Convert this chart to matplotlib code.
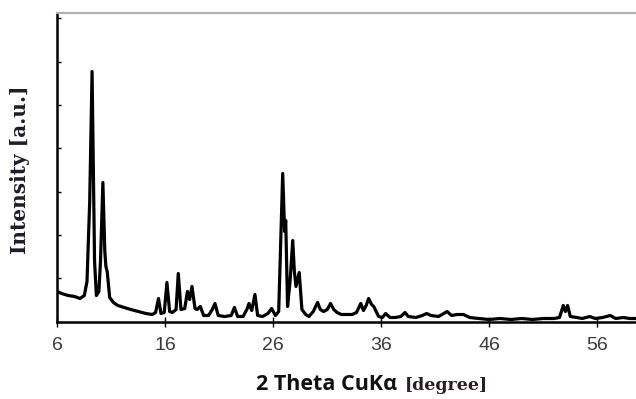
import numpy as np
import matplotlib.pyplot as plt

# XRD pattern (2-theta in degrees, intensity in arbitrary units)
two_theta = [
    6.0, 6.4, 7.0, 7.6, 8.1, 8.5, 8.75, 9.0, 9.22, 9.45, 9.62, 9.85, 10.0, 10.22,
    10.4, 10.5, 10.62, 10.85, 11.2, 11.6, 12.2, 12.8, 13.5, 14.2, 14.8, 15.1,
    15.37, 15.6, 15.9, 16.15, 16.4, 16.65, 17.0, 17.2, 17.45, 17.8, 18.05, 18.25,
    18.47, 18.75, 18.95, 19.24, 19.55, 20.0, 20.35, 20.6, 20.9, 21.5, 22.1, 22.4,
    22.7, 23.2, 23.55, 23.75, 24.0, 24.3, 24.55, 25.0, 25.5, 25.85, 26.2, 26.5,
    26.87, 27.05, 27.15, 27.32, 27.55, 27.8, 27.95, 28.1, 28.4, 28.65, 29.0, 29.3,
    29.7, 30.1, 30.35, 30.66, 31.0, 31.3, 31.6, 31.9, 32.3, 32.7, 33.3, 33.7,
    34.1, 34.35, 34.6, 34.83, 35.1, 35.3, 35.75, 36.1, 36.4, 36.8, 37.3, 37.8,
    38.2, 38.5, 39.2, 39.8, 40.2, 40.6, 41.3, 42.1, 42.5, 43.0, 43.6, 44.2,
    45.0, 46.0, 47.0, 48.0, 49.0, 50.0, 51.0, 52.0, 52.5, 52.85, 53.05, 53.25,
    53.5, 54.1, 54.6, 55.3, 55.8, 56.5, 57.2, 57.7, 58.4, 59.0, 59.6,
]
intensity = [
    30, 28, 26, 25, 23, 26, 40, 120, 250, 60, 26, 30, 60, 139,
    70, 55, 50, 24, 19, 16, 14, 12, 10, 8, 7, 9,
    23, 8, 9, 39, 10, 9, 12, 48, 12, 13, 30, 22,
    35, 13, 12, 15, 6, 6, 12, 18, 6, 5, 6, 14,
    5, 5, 12, 18, 11, 27, 6, 5, 8, 13, 6, 10,
    148, 90, 101, 15, 40, 81, 50, 35, 49, 12, 7, 5,
    10, 19, 12, 10, 12, 18, 12, 9, 7, 7, 7, 9,
    18, 11, 16, 23, 17, 15, 5, 4, 8, 4, 4, 5,
    9, 5, 4, 6, 8, 6, 5, 10, 6, 7, 7, 4,
    3, 2, 3, 2, 3, 2, 3, 3, 4, 16, 10, 16,
    5, 4, 3, 5, 3, 4, 6, 3, 4, 3, 3,
]
xtick_vals = [6, 16, 26, 36, 46, 56]

fig = plt.figure(figsize=(6.36, 3.99), dpi=100)
ax = fig.add_axes([57.3 / 636, 77.5 / 399, (636 - 57.3) / 636, 308.5 / 399])

ax.plot(two_theta, intensity, color='black', lw=2.3, solid_joinstyle='round')

ax.set_xlim(6, 6 + 578.7 / 10.8)
ax.set_ylim(0, 308.5)
ax.set_xticks(xtick_vals)
ax.set_yticks(np.arange(0, 8) * 43.3)
ax.set_yticklabels([])

ax.tick_params(axis='x', direction='inout', length=7, width=1, pad=8,
               labelsize=14, labelcolor='#3a3a3a')
ax.tick_params(axis='y', direction='in', length=3, width=1)
for lab in ax.get_xticklabels():
    lab.set_family('Liberation Sans')

ax.spines['right'].set_visible(False)
ax.spines['top'].set_color('#b0b0b0')
ax.spines['top'].set_linewidth(1.6)
ax.spines['left'].set_linewidth(1.8)
ax.spines['bottom'].set_linewidth(1.8)

fig.text(20 / 636, 1 - 170 / 399, 'Intensity [a.u.]', rotation=90,
         family='DejaVu Serif', weight='bold', fontsize=14.5,
         ha='center', va='center', color='#1c1c2a')
fig.text(397 / 636, 1 - 389.5 / 399, '2 Theta CuKα', family='Open Sans',
         weight='bold', fontsize=15.5, ha='right', va='baseline', color='#111111')
fig.text(405 / 636, 1 - 389.5 / 399, '[degree]', family='DejaVu Serif',
         weight='bold', fontsize=12.5, ha='left', va='baseline', color='#2a1a2a')

fig.savefig('out.png', dpi=100)
